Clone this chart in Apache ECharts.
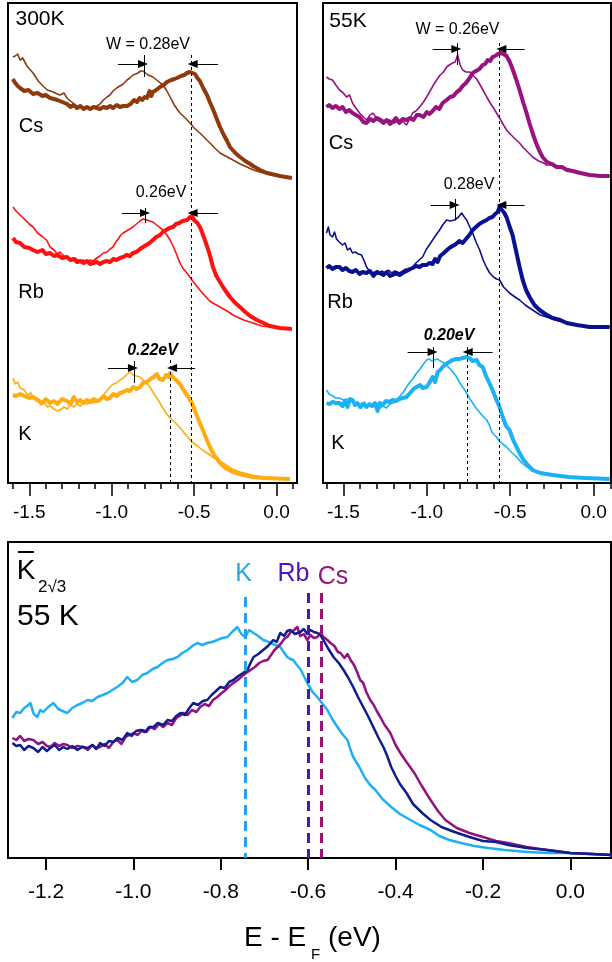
<!DOCTYPE html>
<html><head><meta charset="utf-8">
<script src="https://cdn.jsdelivr.net/npm/echarts@6/dist/echarts.min.js"></script>
<style>html,body{margin:0;padding:0;background:#fff}#c{width:612px;height:962px}</style>
</head><body><div id="c"></div>
<script>
// ---------- tick labels ----------
const topMajorTicks = [-1.5, -1.0, -0.5, 0.0];
const topMinorTicks = [-1.6,-1.5,-1.4,-1.3,-1.2,-1.1,-1.0,-0.9,-0.8,-0.7,-0.6,-0.5,-0.4,-0.3,-0.2,-0.1,0.0,0.1];
const bottomTicks = [-1.2, -1.0, -0.8, -0.6, -0.4, -0.2, 0.0];

// ---------- 300K panel (x: eV, y: offset intensity) ----------
const tlCsThin = [[-1.600,426],[-1.585,427],[-1.570,429],[-1.556,423],[-1.540,425],[-1.514,417],[-1.477,410],[-1.445,402],[-1.417,397],[-1.390,393],[-1.356,391],[-1.330,389],[-1.314,388],[-1.290,390],[-1.271,385],[-1.250,382],[-1.235,380],[-1.215,374],[-1.200,377],[-1.180,375],[-1.160,376],[-1.140,374],[-1.113,375],[-1.090,377],[-1.071,379],[-1.050,383],[-1.028,386],[-1.010,388],[-0.992,392],[-0.970,395],[-0.950,397],[-0.930,399],[-0.907,403],[-0.890,405],[-0.871,408],[-0.855,409],[-0.841,410],[-0.825,412],[-0.810,412],[-0.795,410],[-0.780,408],[-0.765,407],[-0.750,406],[-0.720,402],[-0.689,398],[-0.665,392],[-0.646,386],[-0.620,378],[-0.600,373],[-0.586,370],[-0.560,366],[-0.525,360],[-0.500,355],[-0.465,350],[-0.435,345],[-0.404,340],[-0.375,335],[-0.343,330],[-0.310,327],[-0.264,323],[-0.220,319],[-0.180,316],[-0.140,313],[-0.101,311],[-0.060,309],[-0.022,308],[0.030,306],[0.093,305]];
const tlCsThick = [[-1.600,404],[-1.585,400],[-1.570,397],[-1.556,395],[-1.530,392],[-1.505,393],[-1.477,389],[-1.450,390],[-1.420,387],[-1.400,388],[-1.374,385],[-1.350,384],[-1.330,383],[-1.300,381],[-1.271,379],[-1.250,376],[-1.230,378],[-1.210,375],[-1.190,377],[-1.170,374],[-1.150,376],[-1.130,374],[-1.110,376],[-1.090,375],[-1.071,374],[-1.050,376],[-1.030,375],[-1.010,377],[-0.992,375],[-0.970,378],[-0.950,376],[-0.930,377],[-0.907,377],[-0.885,379],[-0.865,383],[-0.847,381],[-0.830,385],[-0.815,383],[-0.800,386],[-0.786,385],[-0.770,392],[-0.760,387],[-0.750,391],[-0.730,393],[-0.707,396],[-0.685,398],[-0.665,401],[-0.640,403],[-0.620,404],[-0.604,405],[-0.580,407],[-0.560,408],[-0.543,410],[-0.525,411],[-0.513,412],[-0.495,409],[-0.480,405],[-0.465,402],[-0.445,395],[-0.422,388],[-0.405,381],[-0.386,374],[-0.365,365],[-0.343,356],[-0.320,348],[-0.300,342],[-0.283,336],[-0.250,330],[-0.222,326],[-0.190,322],[-0.160,319],[-0.143,317],[-0.100,313],[-0.058,310],[0.021,307],[0.093,305]];
const tlRbThin = [[-1.599,276],[-1.580,272],[-1.556,268],[-1.530,264],[-1.500,259],[-1.477,256],[-1.450,250],[-1.417,246],[-1.395,243],[-1.374,236],[-1.350,233],[-1.330,229],[-1.313,231],[-1.290,227],[-1.271,226],[-1.250,224],[-1.223,225],[-1.200,222],[-1.174,223],[-1.150,221],[-1.130,223],[-1.113,222],[-1.090,225],[-1.071,227],[-1.050,230],[-1.028,231],[-1.010,234],[-0.992,236],[-0.975,241],[-0.960,244],[-0.945,248],[-0.931,250],[-0.910,252],[-0.890,254],[-0.871,256],[-0.850,259],[-0.828,262],[-0.810,264],[-0.798,266],[-0.785,263],[-0.770,262],[-0.750,261],[-0.720,257],[-0.689,253],[-0.665,248],[-0.646,243],[-0.625,236],[-0.605,228],[-0.586,220],[-0.570,215],[-0.549,211],[-0.530,207],[-0.513,203],[-0.490,198],[-0.465,193],[-0.445,189],[-0.422,185],[-0.405,182],[-0.386,180],[-0.365,178],[-0.343,176],[-0.300,172],[-0.264,168],[-0.200,163],[-0.143,160],[-0.090,157],[-0.040,156],[0.093,154]];
const tlRbThick = [[-1.599,245],[-1.580,241],[-1.556,240],[-1.530,236],[-1.500,235],[-1.477,233],[-1.450,231],[-1.420,233],[-1.400,229],[-1.374,230],[-1.350,227],[-1.330,228],[-1.300,225],[-1.271,226],[-1.250,223],[-1.230,224],[-1.210,221],[-1.192,222],[-1.170,220],[-1.150,222],[-1.130,219],[-1.113,220],[-1.090,221],[-1.070,219],[-1.050,221],[-1.030,222],[-1.010,221],[-0.990,224],[-0.970,223],[-0.950,225],[-0.930,226],[-0.910,228],[-0.890,227],[-0.871,230],[-0.850,231],[-0.828,234],[-0.810,236],[-0.790,238],[-0.770,240],[-0.750,243],[-0.730,246],[-0.707,248],[-0.690,251],[-0.670,253],[-0.650,255],[-0.628,256],[-0.610,259],[-0.590,260],[-0.570,262],[-0.543,263],[-0.530,265],[-0.513,267],[-0.500,263],[-0.480,260],[-0.465,256],[-0.450,250],[-0.435,243],[-0.422,237],[-0.405,228],[-0.386,216],[-0.365,207],[-0.343,201],[-0.325,196],[-0.300,190],[-0.283,186],[-0.250,180],[-0.222,176],[-0.190,171],[-0.160,167],[-0.119,163],[-0.080,160],[-0.040,157],[0.020,155],[0.093,154]];
const tlKThin = [[-1.599,105],[-1.585,99],[-1.570,101],[-1.556,95],[-1.530,93],[-1.510,88],[-1.490,90],[-1.477,86],[-1.450,84],[-1.430,78],[-1.410,81],[-1.390,76],[-1.374,77],[-1.350,74],[-1.330,72],[-1.313,73],[-1.290,76],[-1.270,74],[-1.250,78],[-1.230,76],[-1.210,79],[-1.190,77],[-1.174,80],[-1.150,79],[-1.130,81],[-1.110,80],[-1.090,82],[-1.071,84],[-1.050,88],[-1.030,92],[-1.010,96],[-0.990,99],[-0.970,100],[-0.950,103],[-0.930,105],[-0.910,108],[-0.889,111],[-0.870,108],[-0.850,107],[-0.828,106],[-0.810,103],[-0.790,100],[-0.768,96],[-0.750,91],[-0.730,86],[-0.707,80],[-0.690,75],[-0.670,70],[-0.646,65],[-0.625,62],[-0.600,58],[-0.574,53],[-0.550,48],[-0.530,44],[-0.513,41],[-0.480,37],[-0.450,33],[-0.422,30],[-0.380,25],[-0.325,20],[-0.270,14],[-0.222,11],[-0.150,8],[-0.080,6],[0.081,4]];
const tlKThick = [[-1.599,88],[-1.580,87],[-1.556,89],[-1.530,87],[-1.500,85],[-1.477,86],[-1.450,83],[-1.420,80],[-1.400,84],[-1.374,80],[-1.350,82],[-1.330,79],[-1.300,84],[-1.271,82],[-1.250,79],[-1.230,86],[-1.210,81],[-1.190,83],[-1.174,80],[-1.150,83],[-1.130,81],[-1.110,84],[-1.090,82],[-1.071,83],[-1.050,87],[-1.030,84],[-1.010,85],[-0.990,89],[-0.970,87],[-0.950,90],[-0.930,91],[-0.907,93],[-0.890,92],[-0.870,96],[-0.850,94],[-0.828,96],[-0.810,100],[-0.786,101],[-0.765,104],[-0.745,106],[-0.726,109],[-0.710,104],[-0.689,103],[-0.670,108],[-0.655,106],[-0.646,110],[-0.630,106],[-0.610,103],[-0.586,99],[-0.560,92],[-0.535,86],[-0.513,80],[-0.490,70],[-0.465,60],[-0.440,50],[-0.420,42],[-0.404,36],[-0.380,28],[-0.360,24],[-0.343,20],[-0.310,15],[-0.264,11],[-0.200,8],[-0.143,6],[-0.080,5],[0.081,4]];

// ---------- 55K panel ----------
const trCsThin = [[-1.601,406],[-1.585,404],[-1.565,403],[-1.545,398],[-1.523,393],[-1.500,390],[-1.481,386],[-1.463,388],[-1.445,380],[-1.425,375],[-1.403,370],[-1.380,366],[-1.361,363],[-1.340,368],[-1.325,370],[-1.305,366],[-1.283,365],[-1.255,362],[-1.223,363],[-1.195,360],[-1.163,363],[-1.140,361],[-1.121,358],[-1.100,365],[-1.085,370],[-1.065,372],[-1.043,376],[-1.020,381],[-1.001,386],[-0.980,392],[-0.960,398],[-0.941,403],[-0.920,408],[-0.900,411],[-0.881,416],[-0.865,418],[-0.845,420],[-0.830,421],[-0.815,428],[-0.800,418],[-0.785,413],[-0.765,411],[-0.743,411],[-0.720,407],[-0.701,404],[-0.680,398],[-0.660,392],[-0.641,386],[-0.620,380],[-0.600,375],[-0.582,370],[-0.560,364],[-0.540,358],[-0.522,353],[-0.500,349],[-0.470,344],[-0.444,340],[-0.420,335],[-0.395,331],[-0.366,326],[-0.330,322],[-0.300,320],[-0.282,318],[-0.250,318],[-0.220,316],[-0.186,315],[-0.150,314],[-0.120,312],[-0.084,310],[-0.050,309],[-0.010,308],[0.036,307],[0.096,307]];
const trCsThick = [[-1.601,376],[-1.585,378],[-1.565,375],[-1.545,377],[-1.523,374],[-1.505,376],[-1.485,371],[-1.465,373],[-1.445,370],[-1.425,368],[-1.403,366],[-1.380,361],[-1.361,360],[-1.340,364],[-1.320,362],[-1.300,365],[-1.283,363],[-1.260,360],[-1.240,363],[-1.220,359],[-1.205,361],[-1.185,365],[-1.165,360],[-1.145,364],[-1.121,363],[-1.100,365],[-1.080,363],[-1.060,368],[-1.043,368],[-1.020,366],[-1.000,371],[-0.985,369],[-0.965,372],[-0.945,376],[-0.925,374],[-0.905,380],[-0.881,383],[-0.860,386],[-0.840,387],[-0.820,391],[-0.803,393],[-0.785,397],[-0.765,400],[-0.743,405],[-0.725,410],[-0.705,412],[-0.685,414],[-0.665,418],[-0.650,419],[-0.635,423],[-0.620,422],[-0.606,426],[-0.590,427],[-0.575,429],[-0.560,430],[-0.540,429],[-0.522,427],[-0.505,422],[-0.486,414],[-0.465,404],[-0.444,393],[-0.423,381],[-0.402,370],[-0.385,360],[-0.366,350],[-0.345,340],[-0.325,332],[-0.306,326],[-0.280,321],[-0.250,319],[-0.222,316],[-0.190,316],[-0.160,313],[-0.126,312],[-0.080,310],[-0.024,308],[0.040,307],[0.096,307]];
const trRbThin = [[-1.601,250],[-1.590,256],[-1.580,248],[-1.565,246],[-1.553,251],[-1.541,244],[-1.525,241],[-1.505,238],[-1.490,240],[-1.475,233],[-1.460,235],[-1.445,230],[-1.430,231],[-1.410,229],[-1.391,228],[-1.375,222],[-1.361,216],[-1.345,212],[-1.331,210],[-1.310,211],[-1.290,209],[-1.270,212],[-1.250,210],[-1.230,213],[-1.210,210],[-1.190,212],[-1.163,210],[-1.145,212],[-1.125,214],[-1.105,213],[-1.085,216],[-1.065,220],[-1.045,223],[-1.025,226],[-1.005,233],[-0.985,238],[-0.965,243],[-0.945,248],[-0.923,253],[-0.905,258],[-0.881,263],[-0.860,262],[-0.833,263],[-0.810,266],[-0.791,270],[-0.775,266],[-0.761,263],[-0.745,257],[-0.725,250],[-0.705,241],[-0.683,233],[-0.660,222],[-0.640,215],[-0.623,210],[-0.600,206],[-0.582,204],[-0.564,203],[-0.540,196],[-0.522,193],[-0.504,190],[-0.480,187],[-0.444,183],[-0.410,178],[-0.366,173],[-0.320,168],[-0.282,166],[-0.230,163],[-0.162,160],[-0.100,158],[-0.024,156],[0.096,156]];
const trRbThick = [[-1.601,215],[-1.585,217],[-1.565,214],[-1.545,216],[-1.523,216],[-1.505,213],[-1.485,215],[-1.465,212],[-1.445,211],[-1.425,213],[-1.403,209],[-1.385,211],[-1.361,210],[-1.340,212],[-1.320,207],[-1.300,211],[-1.283,210],[-1.260,208],[-1.240,211],[-1.220,207],[-1.205,208],[-1.185,210],[-1.163,208],[-1.145,210],[-1.121,212],[-1.100,214],[-1.085,215],[-1.065,217],[-1.043,216],[-1.025,218],[-1.001,218],[-0.985,220],[-0.965,219],[-0.950,224],[-0.935,221],[-0.920,227],[-0.905,229],[-0.885,232],[-0.865,235],[-0.845,237],[-0.825,239],[-0.805,242],[-0.785,240],[-0.765,244],[-0.745,248],[-0.725,253],[-0.705,256],[-0.685,259],[-0.665,261],[-0.641,263],[-0.625,265],[-0.606,266],[-0.590,269],[-0.575,271],[-0.564,276],[-0.550,273],[-0.535,270],[-0.520,265],[-0.505,257],[-0.486,248],[-0.465,232],[-0.444,216],[-0.425,203],[-0.405,193],[-0.384,186],[-0.355,178],[-0.324,173],[-0.290,169],[-0.246,165],[-0.200,163],[-0.162,160],[-0.100,158],[-0.024,156],[0.096,156]];
const trKThin = [[-1.601,93],[-1.585,89],[-1.565,87],[-1.545,85],[-1.523,85],[-1.500,83],[-1.480,84],[-1.460,82],[-1.445,83],[-1.425,79],[-1.405,77],[-1.391,75],[-1.375,81],[-1.360,77],[-1.340,79],[-1.325,76],[-1.305,78],[-1.285,74],[-1.265,77],[-1.241,75],[-1.220,79],[-1.200,80],[-1.181,83],[-1.160,87],[-1.140,91],[-1.121,96],[-1.100,101],[-1.080,105],[-1.061,110],[-1.040,114],[-1.020,119],[-1.001,123],[-0.985,124],[-0.970,122],[-0.953,123],[-0.935,124],[-0.920,122],[-0.905,121],[-0.885,118],[-0.865,115],[-0.845,111],[-0.825,107],[-0.805,101],[-0.785,96],[-0.765,91],[-0.745,85],[-0.725,80],[-0.705,75],[-0.685,71],[-0.665,67],[-0.641,63],[-0.625,58],[-0.610,51],[-0.595,48],[-0.582,46],[-0.565,42],[-0.545,39],[-0.522,36],[-0.500,32],[-0.480,29],[-0.462,26],[-0.430,20],[-0.400,16],[-0.366,13],[-0.320,10],[-0.246,8],[-0.150,6],[-0.050,5],[0.096,4]];
const trKThick = [[-1.601,80],[-1.585,79],[-1.565,81],[-1.545,80],[-1.523,80],[-1.505,77],[-1.490,82],[-1.475,76],[-1.460,84],[-1.445,83],[-1.430,78],[-1.415,80],[-1.400,76],[-1.385,79],[-1.361,76],[-1.345,79],[-1.330,77],[-1.310,80],[-1.295,72],[-1.283,80],[-1.265,78],[-1.245,82],[-1.225,81],[-1.205,83],[-1.185,82],[-1.165,84],[-1.145,85],[-1.121,86],[-1.100,90],[-1.080,94],[-1.061,96],[-1.040,98],[-1.025,95],[-1.001,96],[-0.985,100],[-0.965,106],[-0.950,101],[-0.935,111],[-0.920,113],[-0.905,116],[-0.885,119],[-0.865,121],[-0.845,123],[-0.825,124],[-0.805,124],[-0.785,125],[-0.761,126],[-0.745,125],[-0.725,122],[-0.701,123],[-0.685,118],[-0.665,116],[-0.645,107],[-0.625,100],[-0.606,93],[-0.585,84],[-0.564,76],[-0.545,66],[-0.525,57],[-0.504,53],[-0.485,44],[-0.465,37],[-0.444,30],[-0.420,23],[-0.395,18],[-0.366,13],[-0.320,10],[-0.246,8],[-0.150,6],[-0.050,5],[0.096,4]];

// ---------- bottom panel, 55 K ----------
const btK = [[-1.277,140],[-1.268,146],[-1.259,145],[-1.250,150],[-1.243,152],[-1.236,155],[-1.228,144],[-1.220,141],[-1.213,148],[-1.206,146],[-1.195,151],[-1.183,155],[-1.172,149],[-1.162,147],[-1.151,145],[-1.140,150],[-1.128,153],[-1.117,155],[-1.105,158],[-1.094,157],[-1.082,161],[-1.070,163],[-1.059,165],[-1.048,168],[-1.037,171],[-1.025,175],[-1.014,181],[-1.003,176],[-0.991,178],[-0.980,183],[-0.968,185],[-0.956,189],[-0.945,191],[-0.933,195],[-0.922,198],[-0.910,199],[-0.899,201],[-0.888,205],[-0.876,208],[-0.865,212],[-0.854,215],[-0.842,213],[-0.831,215],[-0.820,216],[-0.808,218],[-0.797,220],[-0.785,221],[-0.774,226],[-0.762,231],[-0.753,224],[-0.744,221],[-0.735,228],[-0.725,225],[-0.714,222],[-0.703,218],[-0.695,217],[-0.686,215],[-0.675,213],[-0.664,211],[-0.656,206],[-0.648,201],[-0.641,199],[-0.634,198],[-0.626,193],[-0.618,189],[-0.610,182],[-0.602,175],[-0.590,166],[-0.579,161],[-0.567,154],[-0.556,148],[-0.545,139],[-0.533,131],[-0.522,124],[-0.510,118],[-0.503,108],[-0.497,101],[-0.490,96],[-0.483,91],[-0.470,80],[-0.458,73],[-0.446,68],[-0.430,59],[-0.410,51],[-0.390,44],[-0.366,38],[-0.345,33],[-0.320,28],[-0.300,22],[-0.277,18],[-0.250,15],[-0.220,12],[-0.188,10],[-0.150,8],[-0.098,6],[-0.050,5],[-0.009,5],[0.040,4],[0.096,3]];
const btRb = [[-1.277,115],[-1.268,112],[-1.259,113],[-1.250,108],[-1.240,112],[-1.229,110],[-1.218,106],[-1.208,111],[-1.198,107],[-1.190,110],[-1.180,113],[-1.170,108],[-1.160,111],[-1.151,109],[-1.140,112],[-1.128,108],[-1.117,111],[-1.105,110],[-1.094,113],[-1.085,109],[-1.076,115],[-1.066,112],[-1.056,117],[-1.046,116],[-1.036,120],[-1.025,118],[-1.014,125],[-1.004,122],[-0.994,127],[-0.984,128],[-0.974,126],[-0.964,131],[-0.954,131],[-0.944,135],[-0.932,133],[-0.922,138],[-0.912,137],[-0.902,142],[-0.892,145],[-0.882,143],[-0.872,150],[-0.863,155],[-0.852,153],[-0.841,157],[-0.831,158],[-0.821,163],[-0.811,167],[-0.801,171],[-0.791,170],[-0.781,176],[-0.771,178],[-0.760,182],[-0.749,185],[-0.739,188],[-0.732,195],[-0.725,201],[-0.714,204],[-0.703,208],[-0.692,212],[-0.680,218],[-0.672,216],[-0.664,225],[-0.655,222],[-0.648,227],[-0.641,228],[-0.630,224],[-0.618,226],[-0.610,229],[-0.602,224],[-0.595,228],[-0.587,226],[-0.579,225],[-0.572,223],[-0.565,218],[-0.555,210],[-0.542,201],[-0.530,195],[-0.519,188],[-0.508,180],[-0.497,171],[-0.486,161],[-0.474,151],[-0.462,141],[-0.451,131],[-0.440,121],[-0.428,111],[-0.420,103],[-0.410,91],[-0.400,82],[-0.390,74],[-0.375,65],[-0.360,54],[-0.339,45],[-0.320,38],[-0.295,31],[-0.265,26],[-0.231,21],[-0.200,17],[-0.170,16],[-0.142,13],[-0.100,10],[-0.053,8],[0.000,5],[0.050,4],[0.096,3]];
const btCs = [[-1.277,120],[-1.268,118],[-1.259,122],[-1.250,117],[-1.240,119],[-1.229,118],[-1.218,114],[-1.208,116],[-1.198,112],[-1.190,111],[-1.180,115],[-1.170,112],[-1.160,114],[-1.151,113],[-1.140,110],[-1.128,112],[-1.114,111],[-1.104,108],[-1.094,113],[-1.085,110],[-1.076,111],[-1.066,114],[-1.056,110],[-1.046,116],[-1.037,118],[-1.027,114],[-1.018,121],[-1.009,123],[-1.000,125],[-0.990,123],[-0.980,128],[-0.970,126],[-0.961,131],[-0.951,129],[-0.941,134],[-0.932,131],[-0.922,135],[-0.912,133],[-0.902,140],[-0.894,142],[-0.886,145],[-0.876,143],[-0.866,148],[-0.856,146],[-0.847,151],[-0.837,154],[-0.827,152],[-0.818,158],[-0.808,161],[-0.798,165],[-0.789,168],[-0.780,172],[-0.771,175],[-0.761,178],[-0.751,182],[-0.742,185],[-0.732,188],[-0.722,191],[-0.712,195],[-0.703,197],[-0.693,198],[-0.685,203],[-0.677,208],[-0.670,211],[-0.663,214],[-0.655,219],[-0.648,221],[-0.640,226],[-0.632,228],[-0.625,231],[-0.618,222],[-0.610,224],[-0.602,218],[-0.595,223],[-0.587,220],[-0.579,221],[-0.572,225],[-0.565,221],[-0.556,218],[-0.549,215],[-0.540,212],[-0.532,206],[-0.526,205],[-0.517,200],[-0.510,204],[-0.503,198],[-0.495,193],[-0.488,186],[-0.481,178],[-0.474,175],[-0.467,166],[-0.458,158],[-0.450,153],[-0.443,147],[-0.435,141],[-0.425,133],[-0.412,125],[-0.400,113],[-0.389,105],[-0.375,96],[-0.357,85],[-0.340,72],[-0.320,58],[-0.303,47],[-0.286,38],[-0.260,30],[-0.231,25],[-0.200,21],[-0.170,17],[-0.142,15],[-0.100,11],[-0.053,8],[0.000,5],[0.050,4],[0.096,3]];

// ---------- annotations (data coordinates) ----------
const tlDashed = [[-0.515, 428], [-0.643, 123]];           // [x, top]
const tlWidthTicks = [[-0.804, 428, 406], [-0.795, 275, 260], [-0.865, 122, 100]]; // [x, y1, y2]
const tlArrows = [[-0.962, -0.810, 419], [-0.355, -0.509, 419], [-0.938, -0.798, 270], [-0.355, -0.509, 270], [-1.022, -0.871, 115], [-0.495, -0.634, 115]]; // [from, tip, y]
const trDashed = [[-0.567, 440], [-0.755, 136]];
const trWidthTicks = [[-0.815, 440, 418], [-0.827, 284, 263], [-0.959, 136, 115]];
const trArrows = [[-0.965, -0.823, 434], [-0.414, -0.553, 434], [-0.977, -0.833, 278], [-0.414, -0.553, 278], [-1.115, -0.965, 131], [-0.606, -0.755, 131]];
const btPeakLines = [[-0.744, 261], [-0.600, 265], [-0.571, 265]];

// ---------- build ----------
const FONT = 'Liberation Sans, Arial, Helvetica, sans-serif';
const C = {
  brown: '#8E3A0C', red: '#FF1111', orange: '#FFAC10',
  purple: '#98137F', navy: '#0A1190', sky: '#1AB2F5',
  bK: '#1DB0F6', bRb: '#0F1E8E', bCs: '#92137E',
  dK: '#1FA6EE', dRb: '#5212B8', dCs: '#981178'
};

function lineS(data, xi, yi, color, width, z, markLine) {
  const s = { type: 'line', data: data, xAxisIndex: xi, yAxisIndex: yi, showSymbol: false, symbol: 'none',
    lineStyle: { color: color, width: width, join: 'round' }, itemStyle: { color: color }, z: z, silent: true, animation: false };
  if (markLine) s.markLine = markLine;
  return s;
}

function annotations(dashed, ticks, arrows) {
  const data = [];
  dashed.forEach(d => data.push([{ coord: [d[0], d[1]], symbol: 'none', lineStyle: { type: [3, 3], width: 1, color: '#000' } }, { coord: [d[0], 0], symbol: 'none' }]));
  ticks.forEach(t => data.push([{ coord: [t[0], t[1]], symbol: 'none', lineStyle: { type: 'solid', width: 1, color: '#000' } }, { coord: [t[0], t[2]], symbol: 'none' }]));
  arrows.forEach(a => data.push([{ coord: [a[0], a[2]], symbol: 'none', lineStyle: { type: 'solid', width: 1, color: '#000' } }, { coord: [a[1], a[2]], symbol: 'triangle', symbolSize: [8, 10] }]));
  return { silent: true, animation: false, symbol: ['none', 'none'], label: { show: false }, emphasis: { disabled: true }, data: data };
}

const btMark = { silent: true, animation: false, symbol: ['none', 'none'], label: { show: false }, emphasis: { disabled: true },
  data: btPeakLines.map((d, i) => [{ coord: [d[0], d[1]], symbol: 'none', lineStyle: { type: [10, 6], width: 3, color: [C.dK, C.dRb, C.dCs][i] } }, { coord: [d[0], 0], symbol: 'none' }]) };

function mainX(grid, min, max, ticks, len, width, fs, margin) {
  return { type: 'value', gridIndex: grid, min: min, max: max, position: 'bottom',
    axisLine: { show: false }, splitLine: { show: false },
    axisTick: { show: true, inside: false, length: len, customValues: ticks, lineStyle: { color: '#000', width: width } },
    axisLabel: { show: true, customValues: ticks, formatter: v => v.toFixed(1), color: '#000', fontSize: fs, fontFamily: FONT, margin: margin } };
}
function minorX(grid, min, max, ticks) {
  return { type: 'value', gridIndex: grid, min: min, max: max, position: 'bottom', offset: 0,
    axisLine: { show: false }, splitLine: { show: false }, axisLabel: { show: false },
    axisTick: { show: true, inside: false, length: 6, customValues: ticks, lineStyle: { color: '#000', width: 1.5 } } };
}

const option = {
  backgroundColor: '#fff',
  animation: false,
  grid: [
    { left: 8, top: 3, width: 289, height: 480, show: true, borderColor: '#000', borderWidth: 2, backgroundColor: 'transparent' },
    { left: 323, top: 3, width: 288, height: 480, show: true, borderColor: '#000', borderWidth: 2, backgroundColor: 'transparent' },
    { left: 8, top: 542, width: 603, height: 316, show: true, borderColor: '#000', borderWidth: 2, backgroundColor: 'transparent' }
  ],
  xAxis: [
    mainX(0, -1.629, 0.124, topMajorTicks, 13, 1.5, 19, 20),
    minorX(0, -1.629, 0.124, topMinorTicks),
    mainX(1, -1.622, 0.104, topMajorTicks, 13, 1.5, 19, 20),
    minorX(1, -1.622, 0.104, topMinorTicks),
    mainX(2, -1.287, 0.093, bottomTicks, 12, 2, 21, 24)
  ],
  yAxis: [
    { type: 'value', gridIndex: 0, min: 0, max: 480, show: false },
    { type: 'value', gridIndex: 1, min: 0, max: 480, show: false },
    { type: 'value', gridIndex: 2, min: 0, max: 316, show: false }
  ],
  series: [
    lineS(tlCsThick, 0, 0, C.brown, 4, 2, annotations(tlDashed, tlWidthTicks, tlArrows)),
    lineS(tlCsThin, 0, 0, C.brown, 1.6, 3),
    lineS(tlRbThick, 0, 0, C.red, 4, 2),
    lineS(tlRbThin, 0, 0, C.red, 1.6, 3),
    lineS(tlKThick, 0, 0, C.orange, 4, 2),
    lineS(tlKThin, 0, 0, C.orange, 1.6, 3),
    lineS(trCsThick, 2, 1, C.purple, 4, 2, annotations(trDashed, trWidthTicks, trArrows)),
    lineS(trCsThin, 2, 1, C.purple, 1.6, 3),
    lineS(trRbThick, 2, 1, C.navy, 4, 2),
    lineS(trRbThin, 2, 1, C.navy, 1.6, 3),
    lineS(trKThick, 2, 1, C.sky, 4, 2),
    lineS(trKThin, 2, 1, C.sky, 1.6, 3),
    lineS(btK, 4, 2, C.bK, 2.5, 2, btMark),
    lineS(btCs, 4, 2, C.bCs, 2.5, 3),
    lineS(btRb, 4, 2, C.bRb, 2.5, 4)
  ],
  graphic: []
};

function T(text, x, y, size, opts) {
  opts = opts || {};
  return { type: 'text', x: x, y: y, silent: true, z: 100,
    style: { text: text, fontFamily: FONT, fontSize: size, fontWeight: opts.weight || 'normal', fontStyle: opts.style || 'normal',
      fill: opts.color || '#000', textAlign: opts.align || 'center', textVerticalAlign: 'middle' } };
}
option.graphic = [
  T('300K', 40, 19, 21), T('Cs', 31, 126, 20), T('Rb', 31, 292, 20), T('K', 25, 434, 20),
  T('W = 0.28eV', 148, 45, 16), T('0.26eV', 161, 193, 16), T('0.22eV', 152.5, 351, 16, { weight: 'bold', style: 'italic' }),
  T('55K', 348, 21, 21), T('Cs', 341, 143, 20), T('Rb', 340, 302, 20), T('K', 338, 443, 20),
  T('W = 0.26eV', 457.5, 30, 16), T('0.28eV', 469, 185, 16), T('0.20eV', 449, 336, 16, { weight: 'bold', style: 'italic' }),
  T('K', 26, 571, 28), { type: 'line', silent: true, z: 100, shape: { x1: 18, y1: 552, x2: 34, y2: 552 }, style: { stroke: '#000', lineWidth: 2 } },
  T('2\u221A3', 38, 587, 17, { align: 'left' }),
  T('55 K', 17, 617, 30, { align: 'left' }),
  T('K', 243.5, 574, 25, { color: C.dK }), T('Rb', 293.5, 574, 25, { color: C.dRb }), T('Cs', 333, 577, 25, { color: C.dCs }),
  T('E - E', 244, 938, 28, { align: 'left' }), T('F', 311, 955, 15, { align: 'left' }), T('(eV)', 328, 938, 28, { align: 'left' })
];

const chart = echarts.init(document.getElementById('c'), null, { renderer: 'canvas', width: 612, height: 962 });
chart.setOption(option);
</script>
</body></html>
